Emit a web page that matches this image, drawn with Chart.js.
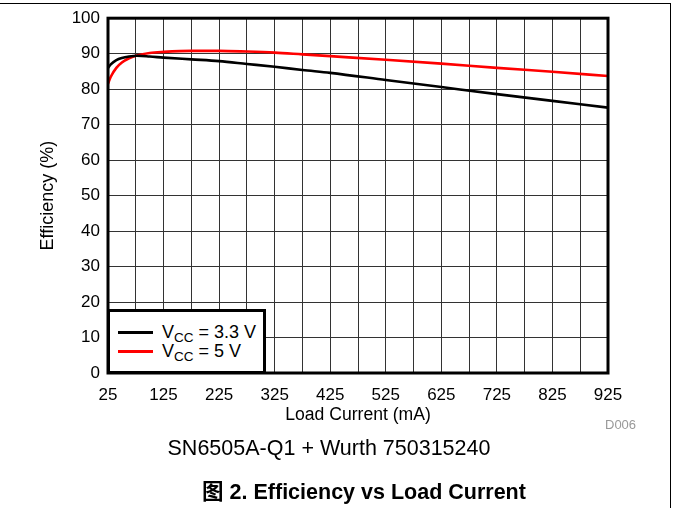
<!DOCTYPE html>
<html>
<head>
<meta charset="utf-8">
<script src="https://cdn.jsdelivr.net/npm/chart.js@4"></script>
<style>
  body { margin: 0; background: #fff; font-family: "Liberation Sans", Arial, "Noto Sans CJK SC", sans-serif; }
  #wrap { position: relative; width: 673px; height: 508px; overflow: hidden; }
  #chart { position: absolute; left: 0; top: 0; }
  .frame-top { position: absolute; left: 0; top: 3px; width: 671px; height: 1px; background: #000; }
  .frame-right { position: absolute; left: 670px; top: 3px; width: 1px; height: 505px; background: #000; }
  #legend { position: absolute; left: 107px; top: 309px; width: 159px; height: 65px; box-sizing: border-box;
            border: 3px solid #000; background: #fff; }
  #legend .row { position: absolute; left: 0; height: 20px; line-height: 20px; font-size: 18px; white-space: nowrap; }
  #legend .swatch { position: absolute; left: 8px; top: 9px; width: 35px; height: 3px; }
  #legend .txt { position: absolute; left: 52px; top: 0; }
  #legend sub { font-size: 13.5px; vertical-align: -4px; line-height: 0; }
  .note { position: absolute; white-space: nowrap; }
  #code { left: 605px; top: 417px; font-size: 13px; color: #999; }
  #caption { left: 0; width: 658px; top: 436px; text-align: center; font-size: 21.5px; }
  #title { left: 0; width: 728px; top: 474px; text-align: center; font-size: 21.5px; font-weight: bold; }
</style>
</head>
<body>
<div id="wrap">
  <canvas id="chart" width="673" height="508"></canvas>
  <div class="frame-top"></div>
  <div class="frame-right"></div>
  <div id="legend"></div>
  <div class="note" id="code">D006</div>
  <div class="note" id="caption">SN6505A-Q1 + Wurth 750315240</div>
  <div class="note" id="title">图 2. Efficiency vs Load Current</div>
</div>
<script>
// ============================================
// Data
// ============================================

const supplyLabels = ['3.3 V', '5 V'];
const seriesColors = ['#000000', '#ff0000'];

const current33 = [25, 30, 40, 50, 63, 77, 100, 125, 175, 225, 275, 325, 375, 425, 525, 625, 725, 825, 925];
const eff33     = [86.0, 87.0, 88.2, 88.8, 89.2, 89.4, 89.2, 88.9, 88.4, 87.9, 87.1, 86.3, 85.4, 84.6, 82.6, 80.6, 78.6, 76.7, 74.8];

const current5 = [25, 30, 40, 50, 63, 77, 100, 125, 175, 225, 275, 325, 375, 425, 525, 625, 725, 825, 925];
const eff5     = [81.5, 83.5, 86.0, 87.5, 88.7, 89.5, 90.2, 90.5, 90.8, 90.8, 90.6, 90.3, 89.8, 89.3, 88.3, 87.2, 86.0, 84.9, 83.7];

// vertical grid lines every 50 mA, labels every 100 mA
const xGridValues  = [25, 75, 125, 175, 225, 275, 325, 375, 425, 475, 525, 575, 625, 675, 725, 775, 825, 875, 925];
const xLabelValues = [25, 125, 225, 325, 425, 525, 625, 725, 825, 925];

const FONT = '"Liberation Sans", Arial, sans-serif';

// ============================================
// Plugins
// ============================================

// thick frame round the plot area
const plotFrame = {
  id: 'plotFrame',
  afterDatasetsDraw(chart) {
    const { ctx, chartArea: a } = chart;
    ctx.save();
    ctx.strokeStyle = '#000';
    ctx.lineWidth = 3;
    ctx.strokeRect(a.left, a.top, a.right - a.left, a.bottom - a.top);
    ctx.restore();
  }
};

// html legend so the subscript can be real text
const htmlLegend = {
  id: 'htmlLegend',
  afterUpdate(chart) {
    const box = document.getElementById('legend');
    box.innerHTML = '';
    chart.data.datasets.forEach((ds, i) => {
      const row = document.createElement('div');
      row.className = 'row';
      row.style.top = (10 + i * 19) + 'px';
      row.innerHTML = '<span class="swatch" style="background:' + ds.borderColor + '"></span>' +
        '<span class="txt">V<sub>CC</sub> = ' + supplyLabels[i] + '</span>';
      box.appendChild(row);
    });
  }
};

// ============================================
// Chart
// ============================================

function toPoints(xs, ys) {
  return xs.map((x, i) => ({ x: x, y: ys[i] }));
}

const ctx = document.getElementById('chart');

new Chart(ctx, {
  type: 'line',
  data: {
    datasets: [
      {
        label: 'VCC = ' + supplyLabels[0],
        data: toPoints(current33, eff33),
        borderColor: seriesColors[0],
        borderWidth: 2.6,
        pointRadius: 0,
        cubicInterpolationMode: 'monotone'
      },
      {
        label: 'VCC = ' + supplyLabels[1],
        data: toPoints(current5, eff5),
        borderColor: seriesColors[1],
        borderWidth: 2.6,
        pointRadius: 0,
        cubicInterpolationMode: 'monotone'
      }
    ]
  },
  options: {
    responsive: false,
    animation: false,
    devicePixelRatio: 1,
    layout: { padding: { left: 0, top: 17, right: 65, bottom: 0 } },
    plugins: {
      legend: { display: false },
      tooltip: { enabled: false }
    },
    scales: {
      x: {
        type: 'linear',
        min: 25,
        max: 925,
        afterBuildTicks(scale) {
          scale.ticks = xGridValues.map(v => ({ value: v }));
        },
        afterFit(scale) { scale.height = 135; },
        grid: { color: '#333', lineWidth: 1, drawTicks: false },
        border: { display: false },
        ticks: {
          autoSkip: false,
          maxRotation: 0,
          padding: 12,
          color: '#000',
          font: { family: FONT, size: 17 },
          callback: v => (xLabelValues.includes(v) ? String(v) : '')
        },
        title: {
          display: true,
          text: 'Load Current (mA)',
          color: '#000',
          font: { family: FONT, size: 17.6 },
          padding: { top: 0, bottom: 82 }
        }
      },
      y: {
        min: 0,
        max: 100,
        afterFit(scale) { scale.width = 108; },
        grid: { color: '#333', lineWidth: 1, drawTicks: false },
        border: { display: false },
        ticks: {
          stepSize: 10,
          padding: 8,
          color: '#000',
          font: { family: FONT, size: 17 }
        },
        title: {
          display: true,
          text: 'Efficiency (%)',
          color: '#000',
          font: { family: FONT, size: 18 },
          padding: { top: 37, bottom: 0 }
        }
      }
    }
  },
  plugins: [plotFrame, htmlLegend]
});
</script>
</body>
</html>
